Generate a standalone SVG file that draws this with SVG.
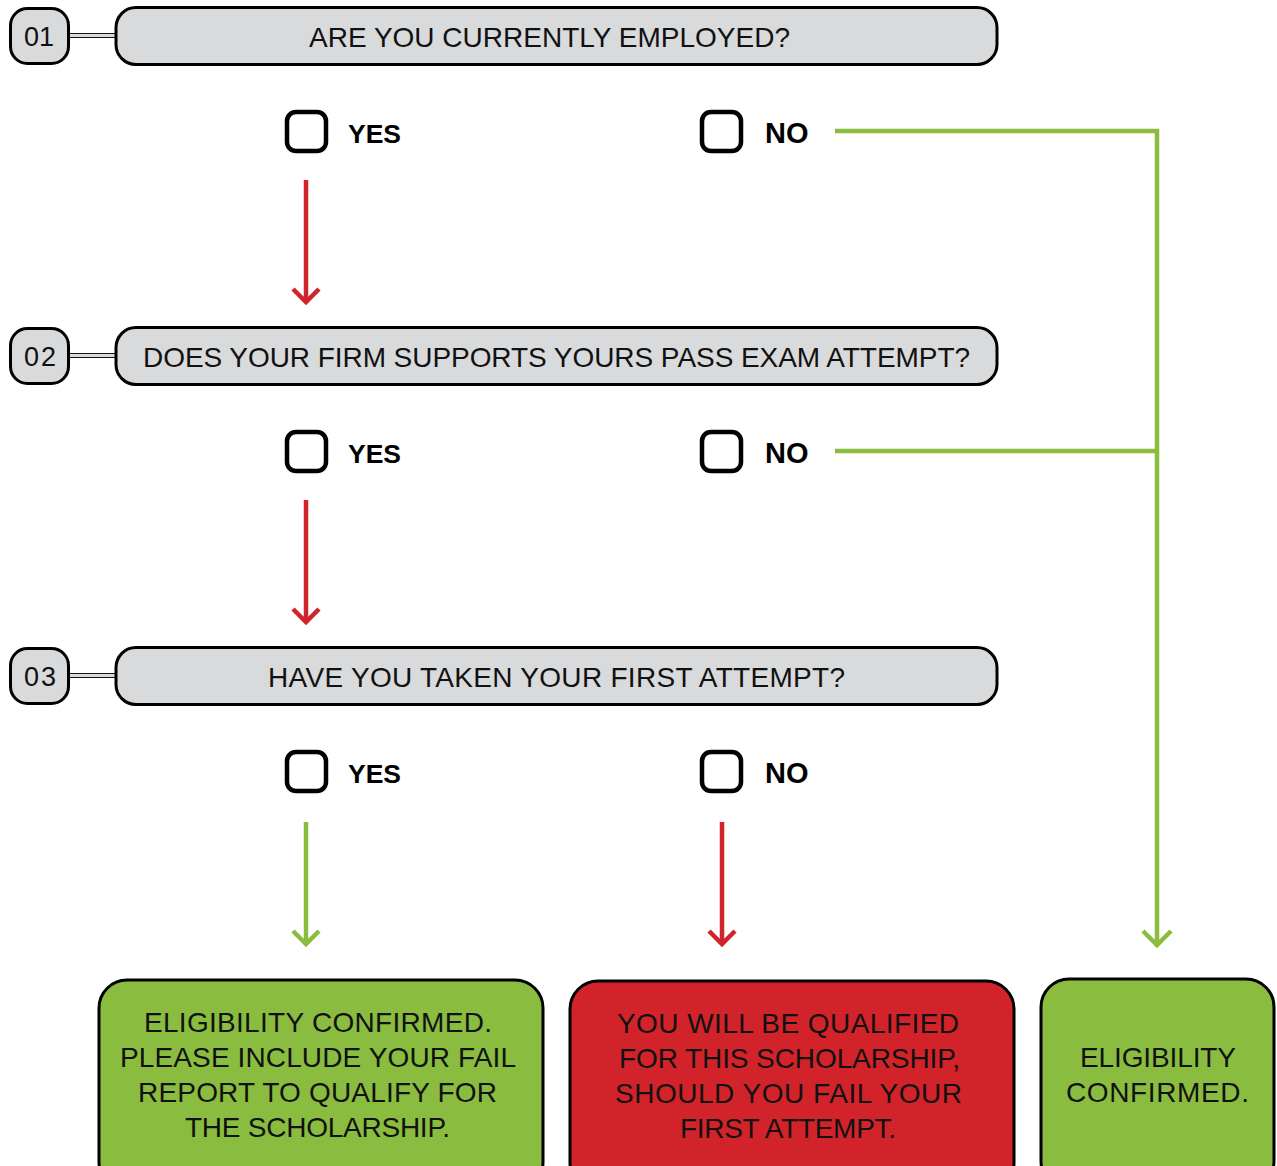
<svg xmlns="http://www.w3.org/2000/svg" width="1277" height="1166" viewBox="0 0 1277 1166">
<style>
.num{fill:#d9dadb;stroke:#000;stroke-width:3}
.q{fill:#d9dadb;stroke:#000;stroke-width:3}
.link{fill:#d9dadb;stroke:#111;stroke-width:1}
.cb{fill:none;stroke:#000;stroke-width:4.5}
.t{font-family:"Liberation Sans",Arial,sans-serif;font-size:28px;fill:#111}
.n{font-family:"Liberation Sans",Arial,sans-serif;font-size:27px;fill:#111}
.y{font-family:"Liberation Sans",Arial,sans-serif;font-size:26.5px;font-weight:bold;fill:#000}
.o{font-family:"Liberation Sans",Arial,sans-serif;font-size:29px;font-weight:bold;fill:#000}
.red{stroke:#d2232a;stroke-width:4.5;fill:none}
.grn{stroke:#8abd3f;stroke-width:4.5;fill:none}
.boxg{fill:#8abd3f;stroke:#000;stroke-width:3}
.boxr{fill:#d2232a;stroke:#000;stroke-width:3}
</style>
<rect width="1277" height="1166" fill="#fff"/>
<g id="connectors">
  <path class="red" d="M306 180V302M293 289L306 302L319 289"/>
  <path class="red" d="M306 500V622M293 609L306 622L319 609"/>
  <path class="grn" d="M306 822V944M293 931L306 944L319 931"/>
  <path class="red" d="M722 822V944M709 931L722 944L735 931"/>
  <path class="grn" d="M835 131H1157V944M1143 931L1157 945L1171 931"/>
  <path class="grn" d="M835 451H1157"/>
</g>
<g id="q1">
  <rect class="link" x="68" y="33.5" width="48" height="4"/>
  <rect class="num" x="10.5" y="8.5" width="58" height="55" rx="17"/>
  <text class="n" x="24" y="46" textLength="30" lengthAdjust="spacing">01</text>
  <rect class="q" x="116" y="7.5" width="881" height="57" rx="20"/>
  <text class="t" x="309" y="47" textLength="481" lengthAdjust="spacing">ARE YOU CURRENTLY EMPLOYED?</text>
</g>
<g id="a1">
  <rect class="cb" x="287" y="112" width="39" height="39" rx="9"/>
  <text class="y" x="348" y="143">YES</text>
  <rect class="cb" x="702" y="112" width="39" height="39" rx="9"/>
  <text class="o" x="765" y="143">NO</text>
</g>
<g id="q2">
  <rect class="link" x="68" y="353.5" width="48" height="4"/>
  <rect class="num" x="10.5" y="328.5" width="58" height="55" rx="17"/>
  <text class="n" x="24" y="366" textLength="32" lengthAdjust="spacing">02</text>
  <rect class="q" x="116" y="327.5" width="881" height="57" rx="20"/>
  <text class="t" x="143" y="367" textLength="827" lengthAdjust="spacing">DOES YOUR FIRM SUPPORTS YOURS PASS EXAM ATTEMPT?</text>
</g>
<g id="a2">
  <rect class="cb" x="287" y="432" width="39" height="39" rx="9"/>
  <text class="y" x="348" y="463">YES</text>
  <rect class="cb" x="702" y="432" width="39" height="39" rx="9"/>
  <text class="o" x="765" y="463">NO</text>
</g>
<g id="q3">
  <rect class="link" x="68" y="673.5" width="48" height="4"/>
  <rect class="num" x="10.5" y="648.5" width="58" height="55" rx="17"/>
  <text class="n" x="24" y="686" textLength="32" lengthAdjust="spacing">03</text>
  <rect class="q" x="116" y="647.5" width="881" height="57" rx="20"/>
  <text class="t" x="268" y="687" textLength="577" lengthAdjust="spacing">HAVE YOU TAKEN YOUR FIRST ATTEMPT?</text>
</g>
<g id="a3">
  <rect class="cb" x="287" y="752" width="39" height="39" rx="9"/>
  <text class="y" x="348" y="783">YES</text>
  <rect class="cb" x="702" y="752" width="39" height="39" rx="9"/>
  <text class="o" x="765" y="783">NO</text>
</g>
<g id="result-yes">
  <rect class="boxg" x="99" y="980" width="444" height="210" rx="28"/>
  <text class="t" x="144" y="1032" textLength="348" lengthAdjust="spacing">ELIGIBILITY CONFIRMED.</text>
  <text class="t" x="120" y="1067" textLength="396" lengthAdjust="spacing">PLEASE INCLUDE YOUR FAIL</text>
  <text class="t" x="138" y="1102" textLength="359" lengthAdjust="spacing">REPORT TO QUALIFY FOR</text>
  <text class="t" x="185" y="1137" textLength="265" lengthAdjust="spacing">THE SCHOLARSHIP.</text>
</g>
<g id="result-no">
  <rect class="boxr" x="570" y="981" width="444" height="210" rx="28"/>
  <text class="t" x="617" y="1033" textLength="342" lengthAdjust="spacing">YOU WILL BE QUALIFIED</text>
  <text class="t" x="619" y="1068" textLength="341" lengthAdjust="spacing">FOR THIS SCHOLARSHIP,</text>
  <text class="t" x="615" y="1103" textLength="347" lengthAdjust="spacing">SHOULD YOU FAIL YOUR</text>
  <text class="t" x="680" y="1138" textLength="216" lengthAdjust="spacing">FIRST ATTEMPT.</text>
</g>
<g id="result-confirmed">
  <rect class="boxg" x="1041" y="979" width="233" height="210" rx="28"/>
  <text class="t" x="1080" y="1067" textLength="156" lengthAdjust="spacing">ELIGIBILITY</text>
  <text class="t" x="1066" y="1102" textLength="183" lengthAdjust="spacing">CONFIRMED.</text>
</g>
</svg>
